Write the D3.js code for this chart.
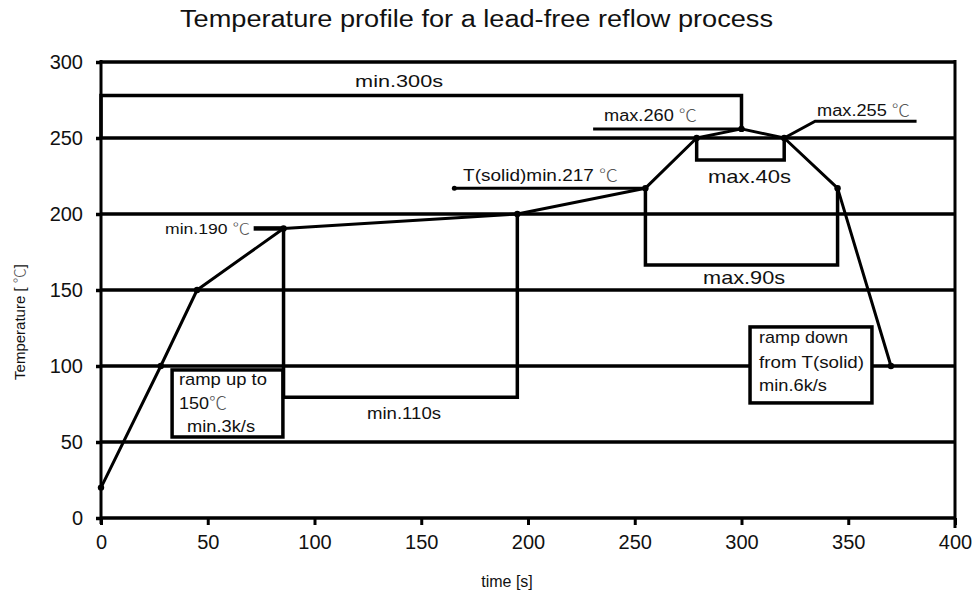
<!DOCTYPE html>
<html><head><meta charset="utf-8">
<script src="https://cdn.jsdelivr.net/npm/d3@7"></script>
<style>
body{margin:0;background:#fff;}
text{font-family:"Liberation Sans",Arial,"Noto Sans CJK SC",sans-serif;fill:#111;}
tspan.deg{font-family:"Noto Sans CJK SC",sans-serif;fill:#555;font-weight:300;}
</style></head>
<body><svg id="c" width="976" height="595"></svg>
<script>
// ---- data ----
const profileTime = [0, 28, 45, 85.5, 195, 255, 279, 300, 320, 345, 370];
const profileTemp = [20, 100, 150, 190.5, 200, 217, 250, 256, 250, 217, 100];
const xTicks = [0, 50, 100, 150, 200, 250, 300, 350, 400];
const yTicks = [0, 50, 100, 150, 200, 250, 300];
// brackets (data units)
const bracketMin300 = [[0,250],[0,278],[300,278],[300,256]];
const bracketMin110 = [[85.5,190.5],[85.5,79.5],[195,79.5],[195,200]];
const bracketMax40  = [[279,250],[279,235.5],[320,235.5],[320,250]];
const bracketMax90  = [[255,217],[255,166.5],[345,166.5],[345,217]];
const leaderMax260  = [[230.5,256],[300,256]];
const leaderMax255  = [[320,250],[334.5,261],[382,261]];
const leaderTsolid  = [[165.5,217],[255,217]];
const leaderMin190  = [[71.5,190.5],[85.5,190.5]];
const boxRampUp   = [33.3, 85.2, 53.3, 97.4];
const boxRampDown = [304, 361.1, 75.7, 125.7];
const labels = [
  {t:"min.300s", x:119.0, y:283.6, w:88, fs:17, anchor:"start"},
  {t:"max.260 ℃", x:235.6, y:261.2, w:93, fs:16, anchor:"start"},
  {t:"max.255 ℃", x:335.4, y:264.5, w:93, fs:16, anchor:"start"},
  {t:"T(solid)min.217 ℃", x:169.6, y:221.7, w:155, fs:16, anchor:"start"},
  {t:"max.40s", x:284.3, y:220.4, w:83, fs:19, anchor:"start"},
  {t:"max.90s", x:282.0, y:153.9, w:82, fs:19, anchor:"start"},
  {t:"min.190 ℃", x:69.8, y:186.8, w:85, fs:15, anchor:"end"},
  {t:"min.110s", x:124.6, y:65.1, w:74, fs:16, anchor:"start"},
  {t:"ramp up to", x:36.5, y:87.5, w:88, fs:17, anchor:"start"},
  {t:"150℃", x:36.5, y:71.7, w:48, fs:17, anchor:"start"},
  {t:"min.3k/s", x:40.3, y:56.6, w:68, fs:17, anchor:"start"},
  {t:"ramp down", x:308.2, y:115.1, w:89, fs:17, anchor:"start"},
  {t:"from T(solid)", x:308.2, y:98.7, w:105, fs:17, anchor:"start"},
  {t:"min.6k/s", x:308.2, y:83.6, w:68, fs:17, anchor:"start"}
];

// ---- chart ----
const svg = d3.select("#c");
const x = d3.scaleLinear().domain([0,400]).range([101,955]);
const y = d3.scaleLinear().domain([0,300]).range([518,62]);
const line = d3.line().x(d=>x(d[0])).y(d=>y(d[1]));

function addDegText(sel, str){
  const parts = str.split("℃");
  parts.forEach((p,i)=>{
    if(p.length) sel.append("tspan").text(p);
    if(i<parts.length-1) sel.append("tspan").attr("class","deg").text("℃");
  });
}

svg.append("text").attr("x",476.5).attr("y",27).attr("text-anchor","middle")
  .attr("font-size",23).attr("textLength",593).attr("lengthAdjust","spacingAndGlyphs")
  .text("Temperature profile for a lead-free reflow process");

// gridlines
svg.append("g").selectAll("line").data(yTicks).join("line")
  .attr("x1",x(0)).attr("x2",x(400)).attr("y1",d=>y(d)).attr("y2",d=>y(d))
  .attr("stroke","#000").attr("stroke-width",3.5);
// right border
svg.append("line").attr("x1",x(400)).attr("x2",x(400)).attr("y1",y(300)-2).attr("y2",y(0)+10)
  .attr("stroke","#000").attr("stroke-width",3);

// axes
const gx = svg.append("g").attr("transform",`translate(0,${y(0)})`)
  .call(d3.axisBottom(x).tickValues(xTicks).tickSize(7).tickPadding(10).tickFormat(d3.format("d")));
gx.select(".domain").remove();
gx.selectAll(".tick line").attr("stroke","#000").attr("stroke-width",3);
gx.selectAll(".tick text").attr("font-size",20).attr("font-family","Liberation Sans, Arial").attr("fill","#111");

const gy = svg.append("g").attr("transform",`translate(${x(0)},0)`)
  .call(d3.axisLeft(y).tickValues(yTicks).tickSize(5).tickPadding(13).tickFormat(d3.format("d")));
gy.select(".domain").remove();
gy.selectAll(".tick line").attr("stroke","#000").attr("stroke-width",3.5);
gy.selectAll(".tick text").attr("font-size",20).attr("font-family","Liberation Sans, Arial").attr("fill","#111");
svg.append("line").attr("x1",x(0)).attr("x2",x(0)).attr("y1",y(300)-2).attr("y2",y(0)+6)
  .attr("stroke","#000").attr("stroke-width",3);

const yl = svg.append("text").attr("transform",`translate(25,${322}) rotate(-90)`).attr("text-anchor","middle")
  .attr("font-size",15).attr("fill","#2a1a10");
addDegText(yl, "Temperature  [ ℃]");
svg.append("text").attr("x",507).attr("y",587).attr("text-anchor","middle")
  .attr("font-size",16).text("time [s]");

// boxes
[boxRampUp, boxRampDown].forEach(b=>{
  svg.append("rect").attr("x",x(b[0])).attr("y",y(b[3])).attr("width",x(b[1])-x(b[0]))
    .attr("height",y(b[2])-y(b[3])).attr("fill","#fff").attr("stroke","#000").attr("stroke-width",3.5);
});

// brackets & leaders
[bracketMin300, bracketMin110, bracketMax40, bracketMax90].forEach(p=>{
  svg.append("path").attr("d",line(p)).attr("fill","none").attr("stroke","#000").attr("stroke-width",3.5);
});
[leaderMax260, leaderMax255, leaderTsolid].forEach(p=>{
  svg.append("path").attr("d",line(p)).attr("fill","none").attr("stroke","#000").attr("stroke-width",3);
});
svg.append("path").attr("d",line(leaderMin190)).attr("fill","none").attr("stroke","#000").attr("stroke-width",4.5);
svg.append("circle").attr("cx",x(leaderTsolid[0][0])).attr("cy",y(leaderTsolid[0][1])).attr("r",2.5).attr("fill","#000");

// profile
const pts = profileTime.map((t,i)=>[t,profileTemp[i]]);
svg.append("path").attr("d",line(pts)).attr("fill","none").attr("stroke","#000").attr("stroke-width",3).attr("stroke-linejoin","round");
svg.append("g").selectAll("circle").data(pts).join("circle")
  .attr("cx",d=>x(d[0])).attr("cy",d=>y(d[1])).attr("r",3.2).attr("fill","#000");

// labels
svg.append("g").selectAll("text").data(labels).join("text")
  .attr("x",d=>x(d.x)).attr("y",d=>y(d.y)).attr("text-anchor",d=>d.anchor)
  .attr("font-size",d=>d.fs).attr("textLength",d=>d.w).attr("lengthAdjust","spacingAndGlyphs")
  .each(function(d){ addDegText(d3.select(this), d.t); });
</script></body></html>
